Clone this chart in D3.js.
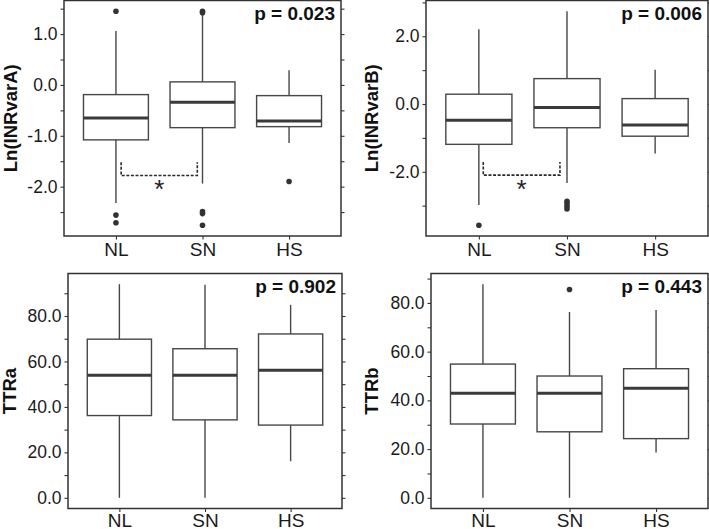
<!DOCTYPE html>
<html>
<head>
<meta charset="utf-8">
<script src="https://cdn.jsdelivr.net/npm/d3@7/dist/d3.min.js"></script>
<style>
  html, body { margin: 0; padding: 0; background: #fff; }
  svg { display: block; }
  text { font-family: "Liberation Sans", Arial, Helvetica, sans-serif; }
</style>
</head>
<body>
<svg id="chart" width="709" height="529"></svg>
<script>
// ---------------- DATA ----------------
const categories = ["NL", "SN", "HS"];

// stats per group: [lower whisker, Q1, median, Q3, upper whisker]
const inrA_stats = [[-2.32, -1.08, -0.65, -0.19, 1.06],
                    [-1.94, -0.84, -0.34, 0.06, 1.38],
                    [-1.14, -0.82, -0.71, -0.21, 0.29]];
const inrA_outliers = [[1.45, -2.56, -2.71],
                       [1.42, 1.45, -2.49, -2.53, -2.76],
                       [-1.90]];

const inrB_stats = [[-2.98, -1.19, -0.48, 0.29, 2.21],
                    [-2.33, -0.70, -0.10, 0.75, 2.74],
                    [-1.46, -0.95, -0.62, 0.16, 1.01]];
const inrB_outliers = [[-3.58],
                       [-2.87, -2.94, -3.02, -3.10],
                       []];

const ttrA_stats = [[0.0, 36.2, 53.9, 69.8, 94.0],
                    [0.0, 34.3, 53.9, 65.6, 93.7],
                    [16.1, 32.0, 56.1, 72.1, 84.9]];
const ttrA_outliers = [[], [], []];

const ttrB_stats = [[0.0, 30.3, 42.9, 54.9, 87.7],
                    [0.0, 27.1, 42.9, 50.0, 76.3],
                    [18.6, 24.3, 45.0, 53.0, 77.1]];
const ttrB_outliers = [[], [85.5], []];

const yTitles = ["Ln(INRvarA)", "Ln(INRvarB)", "TTRa", "TTRb"];
const pLabels = ["p = 0.023", "p = 0.006", "p = 0.902", "p = 0.443"];

const inrA_majorTicks = [-2, -1, 0, 1];
const inrA_minorTicks = [-2.5, -1.5, -0.5, 0.5, 1.5];
const inrB_majorTicks = [-2, 0, 2];
const inrB_minorTicks = [-3, -1, 1, 3];
const ttr_majorTicks = [0, 20, 40, 60, 80];
const ttr_minorTicks = [10, 30, 50, 70, 90];

// significance bracket: [x start, x end (category units, 1-based), top y, bottom y, star y]
const inrA_bracket = [1.06, 1.94, -1.52, -1.78, -1.93];
const inrB_bracket = [1.05, 1.92, -1.71, -2.10, -2.32];

// ---------------- LAYOUT ----------------
const panels = [
  { stats: inrA_stats, out: inrA_outliers, major: inrA_majorTicks, minor: inrA_minorTicks,
    bracket: inrA_bracket, frame: { x0: 64, x1: 341, y0: 0.5, y1: 236 }, titleX: 16.5, xLabDy: 20 },
  { stats: inrB_stats, out: inrB_outliers, major: inrB_majorTicks, minor: inrB_minorTicks,
    bracket: inrB_bracket, frame: { x0: 426, x1: 708, y0: 0.5, y1: 236 }, titleX: 378, xLabDy: 20 },
  { stats: ttrA_stats, out: ttrA_outliers, major: ttr_majorTicks, minor: ttr_minorTicks,
    bracket: null, frame: { x0: 68, x1: 342, y0: 273.5, y1: 508.5 }, titleX: 16, xLabDy: 18 },
  { stats: ttrB_stats, out: ttrB_outliers, major: ttr_majorTicks, minor: ttr_minorTicks,
    bracket: null, frame: { x0: 431, x1: 708, y0: 273.5, y1: 508.5 }, titleX: 378, xLabDy: 18 }
];

const svg = d3.select("#chart");
const lineCol = "#474747";
const frameCol = "#333";

panels.forEach((p, i) => {
  const f = p.frame;
  const g = svg.append("g");

  // y domain from data with 5% expansion
  const allVals = p.stats.flat().concat(p.out.flat());
  const lo = d3.min(allVals), hi = d3.max(allVals);
  const pad = (hi - lo) * 0.05;
  const y = d3.scaleLinear().domain([lo - pad, hi + pad]).range([f.y1, f.y0]);
  const x = d3.scalePoint().domain(categories).range([f.x0, f.x1]).padding(0.6);
  const step = x.step();
  const bw = step * 0.75;
  const xu = d3.scaleLinear().domain([1, 3]).range([x(categories[0]), x(categories[2])]);

  const inDom = v => v <= y.domain()[1] && v >= y.domain()[0];
  const fmt = d => d.toFixed(1);
  const yMajor = d3.axisLeft(y).tickValues(p.major).tickSize(3.5).tickPadding(3).tickFormat(fmt);
  const yMinor = d3.axisLeft(y).tickValues(p.minor.filter(inDom)).tickSize(3.5).tickFormat("");
  const yRight = d3.axisRight(y).tickValues(p.major.concat(p.minor).filter(inDom)).tickSize(3.5).tickFormat("");
  const xAxis = d3.axisBottom(x).tickSize(3.5).tickPadding(3);

  const styleAxis = (sel, fs) => {
    sel.select(".domain").remove();
    sel.selectAll(".tick line").attr("stroke", frameCol).attr("stroke-width", 1.1);
    sel.selectAll(".tick text").attr("fill", "#1a1a1a").style("font-size", fs + "px")
      .style("font-family", '"Liberation Sans", Arial, sans-serif');
  };

  g.append("g").attr("transform", `translate(${f.x0},0)`).call(yMajor).call(s => styleAxis(s, 17.5));
  g.append("g").attr("transform", `translate(${f.x0},0)`).call(yMinor).call(s => styleAxis(s, 17));
  g.append("g").attr("transform", `translate(${f.x1},0)`).call(yRight).call(s => styleAxis(s, 17));
  const xg = g.append("g").attr("transform", `translate(0,${f.y1})`).call(xAxis).call(s => styleAxis(s, 19));
  xg.selectAll(".tick text").attr("dy", null).attr("y", p.xLabDy);

  // boxes
  p.stats.forEach((s, k) => {
    const cx = x(categories[k]);
    const [wl, q1, md, q3, wh] = s;
    g.append("line").attr("x1", cx).attr("x2", cx).attr("y1", y(q3)).attr("y2", y(wh))
      .attr("stroke", lineCol).attr("stroke-width", 1.4);
    g.append("line").attr("x1", cx).attr("x2", cx).attr("y1", y(q1)).attr("y2", y(wl))
      .attr("stroke", lineCol).attr("stroke-width", 1.4);
    g.append("rect").attr("x", cx - bw / 2).attr("y", y(q3)).attr("width", bw).attr("height", y(q1) - y(q3))
      .attr("fill", "#fff").attr("stroke", lineCol).attr("stroke-width", 1.4);
    g.append("line").attr("x1", cx - bw / 2).attr("x2", cx + bw / 2).attr("y1", y(md)).attr("y2", y(md))
      .attr("stroke", "#3a3a3a").attr("stroke-width", 3);
    p.out[k].forEach(v => {
      g.append("circle").attr("cx", cx).attr("cy", y(v)).attr("r", 2.8).attr("fill", "#333");
    });
  });

  // significance bracket
  if (p.bracket) {
    const [bx0, bx1, byTop, byBot, starY] = p.bracket;
    const path = d3.path();
    path.moveTo(xu(bx0), y(byTop));
    path.lineTo(xu(bx0), y(byBot));
    path.lineTo(xu(bx1), y(byBot));
    path.lineTo(xu(bx1), y(byTop));
    g.append("path").attr("d", path.toString()).attr("fill", "none")
      .attr("stroke", "#2a2a2a").attr("stroke-width", 1.6).attr("stroke-dasharray", "3,1.6");
    g.append("text").attr("x", xu((bx0 + bx1) / 2)).attr("y", y(starY) + 15)
      .attr("text-anchor", "middle").style("font-size", "26px").attr("fill", "#222").text("*");
  }

  // frame
  g.append("rect").attr("x", f.x0).attr("y", f.y0).attr("width", f.x1 - f.x0).attr("height", f.y1 - f.y0)
    .attr("fill", "none").attr("stroke", frameCol).attr("stroke-width", 1.5);

  // p-value label
  g.append("text").attr("x", f.x1 - 6).attr("y", f.y0 + 19.5).attr("text-anchor", "end")
    .style("font-size", "19px").style("font-weight", "bold").attr("fill", "#111").text(pLabels[i]);

  // y-title
  g.append("text")
    .attr("transform", `translate(${p.titleX},${(f.y0 + f.y1) / 2}) rotate(-90)`)
    .attr("text-anchor", "middle")
    .style("font-size", "18.5px").style("font-weight", "bold").attr("fill", "#111")
    .text(yTitles[i]);
});
</script>
</body>
</html>
